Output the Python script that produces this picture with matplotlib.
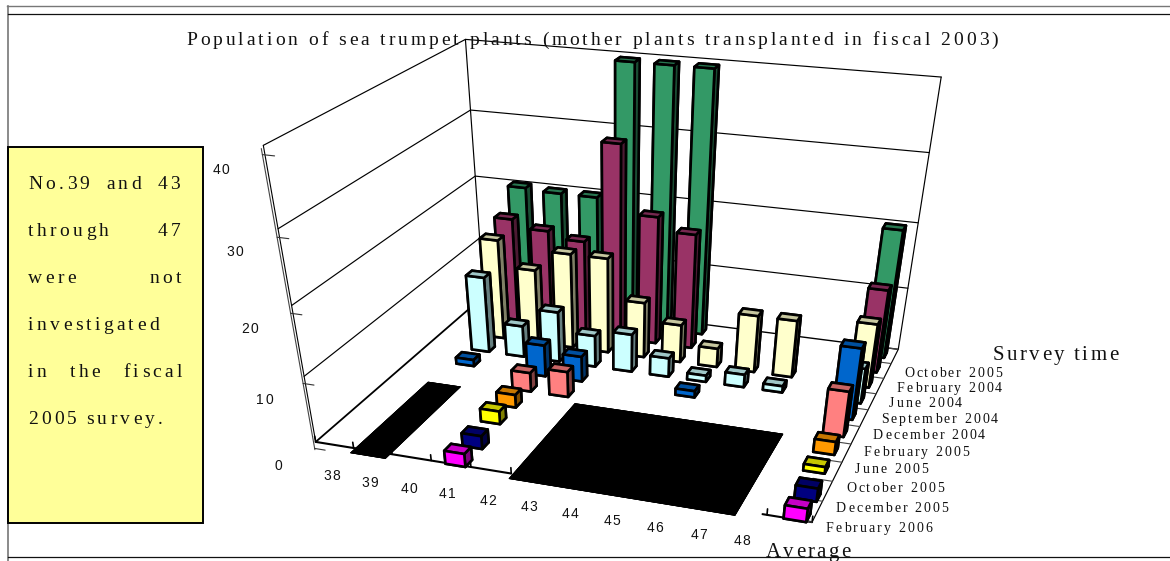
import numpy as np
import matplotlib
matplotlib.use("Agg")
import matplotlib.pyplot as plt
from matplotlib.text import Text
from matplotlib.transforms import Bbox, IdentityTransform
from matplotlib.font_manager import findfont, get_font
from matplotlib.ft2font import LoadFlags
from matplotlib.patches import Rectangle
from matplotlib.lines import Line2D

W, H = 1170, 561

# ---------------- data ----------------
plots = ["38", "39", "40", "41", "42", "43", "44", "45", "46", "47", "48", "Average"]
surveys = ["February 2006", "December 2005", "October 2005", "June 2005", "February 2005",
           "December 2004", "September 2004", "June 2004", "February 2004", "October 2005"]
feb_2006 = [0, 0, 0, 2, 0, 0, 0, 0, 0, 0, 0, 2]
dec_2005 = [0, 0, 0, 2, 0, 0, 0, 0, 0, 0, 0, 2]
oct_2005 = [0, 0, 0, 2, 0, 0, 0, 0, 0, 0, 0, 1]
jun_2005 = [0, 0, 0, 2, 0, 0, 0, 0, 0, 0, 0, 2]
feb_2005 = [0, 0, 0, 3, 4, 0, 0, 0, 0, 0, 0, 7]
dec_2004 = [0, 1, 0, 5, 4, 0, 0, 1, 0, 0, 0, 11]
sep_2004 = [0, 12, 5, 8, 5, 6, 3, 1, 2, 1, 0, 5.5]
jun_2004 = [0, 15.8, 11.8, 15, 15, 8.8, 6, 3, 9, 9, 0, 10]
feb_2004 = [0, 17.2, 16, 15, 30, 20, 18, 0, 0, 0, 0, 13]
oct_2003 = [0, 20.3, 20, 20, 39.7, 39.7, 39.7, 0, 0, 0, 0, 20]
series = [feb_2006, dec_2005, oct_2005, jun_2005, feb_2005, dec_2004, sep_2004, jun_2004, feb_2004, oct_2003]
colors = ["#FF00FF", "#000080", "#FFFF00", "#FF9900", "#FF8080", "#0066CC", "#CCFFFF", "#FFFFCC", "#993366", "#339966"]
not_surveyed_runs = [("39", "39"), ("43", "47")]
not_surveyed_rows = 4
z_ticks = [0, 10, 20, 30, 40]
title = "Population of sea trumpet plants (mother plants transplanted in fiscal 2003)"
note = ["No.39 and 43", "through 47", "were not", "investigated", "in the fiscal", "2005 survey."]

# ---------------- helpers ----------------
class SpacedText(Text):
    """Real text drawn with letter-spacing (pixel coordinates, y down, y = vertical centre)."""
    def __init__(self, xp, yp, s, size, width=None, tracking=None, family="Liberation Serif", color="#111111"):
        super().__init__(xp, H - yp, s, fontsize=size, family=family, color=color, ha="left", va="center",
                         transform=IdentityTransform())
        self.xp, self.yp, self.wp, self.tr = xp, yp, width, tracking

    def _adv(self, ch, fp, dpi):
        f = get_font(findfont(fp))
        f.set_size(fp.get_size_in_points(), dpi)
        return f.load_char(ord(ch), flags=LoadFlags.NO_HINTING).linearHoriAdvance / 65536

    def _layout(self):
        fp = self.get_fontproperties()
        s = self.get_text()
        dpi = self.get_figure().dpi
        adv = [self._adv(c, fp, dpi) for c in s]
        nat = sum(adv)
        if self.wp is None:
            gaps = [self.tr or 0] * len(s)
        elif self.tr is None:
            gaps = [(self.wp - nat) / max(len(s) - 1, 1)] * len(s)
        else:
            nsp = max(s.count(" "), 1)
            extra = (self.wp - nat - self.tr * (len(s) - 1)) / nsp
            gaps = [self.tr + (extra if c == " " else 0) for c in s]
        return s, adv, gaps, fp, dpi

    def get_window_extent(self, renderer=None, dpi=None):
        s, adv, gaps, fp, d = self._layout()
        w = sum(adv) + sum(gaps[:-1])
        px = fp.get_size_in_points() * d / 72
        return Bbox([[self.xp, H - self.yp - px * .4], [self.xp + w, H - self.yp + px * .4]])

    def draw(self, renderer):
        s, adv, gaps, fp, d = self._layout()
        base = H - self.yp - 0.32 * fp.get_size_in_points() * d / 72
        x = self.xp
        for c, a, g in zip(s, adv, gaps):
            if c != " ":
                t = Text(x, base, c, fontproperties=fp, color=self.get_color(), ha="left", va="baseline",
                         transform=IdentityTransform())
                t.set_figure(self.get_figure())
                t.draw(renderer)
            x += a + g
        self.stale = False


def shade(c, f):
    return tuple(np.array(matplotlib.colors.to_rgb(c)) * f) + (1.0,)

# ---------------- camera calibrated on the axis box of the chart ----------------
fig = plt.figure(figsize=(W / 100, H / 100), dpi=100, facecolor="white")
ax = fig.add_axes([0, 0, 1, 1], projection="3d", computed_zorder=False)
ax.set_axis_off()
ax.patch.set_visible(False)
ax.apply_aspect()

calib = [
    ((0, 0, 0), (315, 441)), ((12, 0, 0), (813, 523)), ((12, 10, 0), (898, 349)), ((0, 10, 0), (484.5, 297.5)),
    ((0, 0, 40), (264, 147)), ((0, 10, 40), (466, 37)), ((12, 10, 40), (940, 76)),
    ((0, 0, 30), (278, 229)), ((0, 0, 20), (292, 306)), ((0, 0, 10), (303, 377)),
    ((0, 10, 30), (470, 111)), ((0, 10, 20), (475, 177)), ((0, 10, 10), (480, 237)),
    ((12, 10, 30), (930, 153)), ((12, 10, 20), (918, 223)), ((12, 10, 10), (908, 289)),
    ((1, 0, 0), (353, 447.5)), ((2, 0, 0), (392, 453.5)), ((3, 0, 0), (432, 460)), ((4, 0, 0), (470, 466.5)),
    ((5, 0, 0), (512, 473.4)), ((11, 0, 0), (767, 515.5)),
    ((12, 1, 0), (822.7, 500.7)), ((12, 2, 0), (832.3, 481)), ((12, 3, 0), (841.7, 462.3)), ((12, 4, 0), (851, 444.3)),
    ((12, 5, 0), (860, 426.7)), ((12, 6, 0), (868.3, 409.3)), ((12, 7, 0), (876.7, 393.3)), ((12, 8, 0), (883.3, 378.3)),
    ((12, 9, 0), (890.7, 364)),
]
P3 = np.array([c[0] for c in calib], float)
Px = np.array([c[1] for c in calib], float)
view = ax.transData.inverted().transform(np.c_[Px[:, 0], H - Px[:, 1]])
sc3 = np.array([1 / 12, 1 / 10, 1 / 40])
vmean, vscale = view.mean(0), view.std(0).max()
A = []
for (X, Y, Z), (u, v) in zip(P3 * sc3, (view - vmean) / vscale):
    A.append([X, Y, Z, 1, 0, 0, 0, 0, -u * X, -u * Y, -u * Z, -u])
    A.append([0, 0, 0, 0, X, Y, Z, 1, -v * X, -v * Y, -v * Z, -v])
p = np.linalg.svd(np.array(A))[2][-1].reshape(3, 4)
T = np.array([[vscale, 0, vmean[0]], [0, vscale, vmean[1]], [0, 0, 1]])
p = T @ p @ np.diag(list(sc3) + [1.0])
if (p[2] @ np.array([6, 5, 20, 1])) < 0:
    p = -p
p = p / (p[2] @ np.array([6, 5, 20, 1]))
M = np.array([p[0], p[1], [0, 0, 0, -1.0], p[2]])
ax.get_proj = lambda: M

# ---------------- walls, grid, axis ----------------
def line(xs, ys, zs, lw=0.9, color="black", z=1):
    ax.plot(xs, ys, zs, color=color, lw=lw, zorder=z, clip_on=False, solid_capstyle="round")

ntop = z_ticks[-1]
nx, ny = len(plots), len(surveys)
for zv in z_ticks[1:]:
    line([0, 0, nx], [0, ny, ny], [zv, zv, zv], lw=0.85)
line([0, 0], [ny, ny], [0, ntop], lw=0.85)
line([nx, nx], [ny, ny], [0, ntop], lw=0.85)
line([0, nx], [ny, ny], [0, 0], lw=1.0)
line([0, 0], [0, ny], [0, 0], lw=1.3)
line([nx, nx], [0, ny], [0, 0], lw=0.85)
line([0, 5], [0, 0], [0, 0], lw=1.5)
line([10.9, nx], [0, 0], [0, 0], lw=1.5)
line([0, 0], [0, 0], [0, ntop], lw=0.8)
line([-0.06, -0.06], [0, 0], [-1.3, ntop - 0.4], lw=0.8, color="#444444")
for zv in z_ticks:
    line([-0.06, 0.22], [0, 0], [zv - 1.1, zv - 1.1], lw=0.8, color="#333333")
for k in range(nx + 1):
    line([k, k], [0, 0], [0, 0.9], lw=1.2)
for r in range(ny + 1):
    line([nx, nx - 0.45], [r, r], [0, 0], lw=0.8, color="#444444")

# ---------------- not surveyed cells (flat black) ----------------
for first, last in not_surveyed_runs:
    a, b = plots.index(first), plots.index(last)
    ax.bar3d(a + 0.05, -0.25, 0, (b - a) * 1.10 + 0.9, not_surveyed_rows + 0.25, 0, color="black", edgecolor="black",
             linewidth=0.5, shade=False, zorder=2, clip_on=False)

# ---------------- bars ----------------
bw, bd = 0.5, 0.38
row_dx = [0.13, 0.13, 0, 0, 0, 0, 0, 0, 0, 0]   # the two front rows sit slightly forward in the picture
row_dy = [-0.35, -0.38, 0, 0, 0, 0, 0, 0, 0, 0]
order = 3
for r in range(ny - 1, -1, -1):
    for c in range(nx):
        v = series[r][c]
        if v:
            col = colors[r]
            faces = [shade(col, .5), shade(col, .78), shade(col, 1), shade(col, .5), shade(col, .5), shade(col, .5)]
            ax.bar3d(c + (1 - bw) / 2 + row_dx[r], r + (1 - bd) / 2 + row_dy[r], 0, bw, bd, v, color=faces,
                     edgecolor="black", linewidth=1.9, shade=False, zorder=order, clip_on=False)
            order += 1

# ---------------- frame and note ----------------
def px_line(x0, y0, x1, y1, lw=1.0, color="#111111"):
    fig.add_artist(Line2D([x0 / W, x1 / W], [1 - y0 / H, 1 - y1 / H], color=color, lw=lw))

px_line(7, 5.5, W, 5.5, 1.0, "#777777")
px_line(7.5, 5.5, 7.5, H, 1.2, "#777777")
px_line(8, 13.5, W, 13.5, .9)
px_line(8, 557, W, 557, .9)
fig.add_artist(Rectangle((8 / W, 1 - 523 / H), 195 / W, 376.5 / H, transform=fig.transFigure,
                         facecolor="#FFFF99", edgecolor="black", lw=1.4, zorder=5))

def put(*a, **k):
    t = SpacedText(*a, **k)
    t.set_zorder(10)
    fig.add_artist(t)

put(186, 39, title, 14, width=812)
note_y = [183, 230, 277, 324, 371, 418]
note_w = [152, 152, 153, 129, 154, 135]
for s, y, w in zip(note, note_y, note_w):
    put(28, y, s, 14, width=w, tracking=3.3)

z_pos = [(279, 466), (265, 400), (250, 329), (235, 252), (221, 170)]
for zv, (x, y) in zip(z_ticks, z_pos):
    put(x - 4.3 * len(str(zv)), y, str(zv), 10, tracking=1.5, family="Liberation Sans")
x_pos = [(332, 476), (370, 483), (409, 489), (447, 494), (488, 501), (529, 507), (570, 514), (612, 521), (655, 528),
         (699, 535), (742, 541)]
for s, (x, y) in zip(plots[:11], x_pos):
    put(x - 8.7, y, s, 10, tracking=1.5, family="Liberation Sans")
put(766, 550, plots[11], 15, width=84)
put(993, 353, "Survey time", 15, width=125)
lab = [(826, 528, 106), (836, 508, 112), (846, 488, 98), (855, 469, 73), (864, 452, 105), (873, 435, 112),
       (881, 419, 117), (889, 403, 73), (897, 387.5, 105), (904, 373, 98)]
for s, (x, y, w) in zip(surveys, lab):
    put(x, y, s, 10, width=w)

fig.savefig("out.png", dpi=100, facecolor="white")
